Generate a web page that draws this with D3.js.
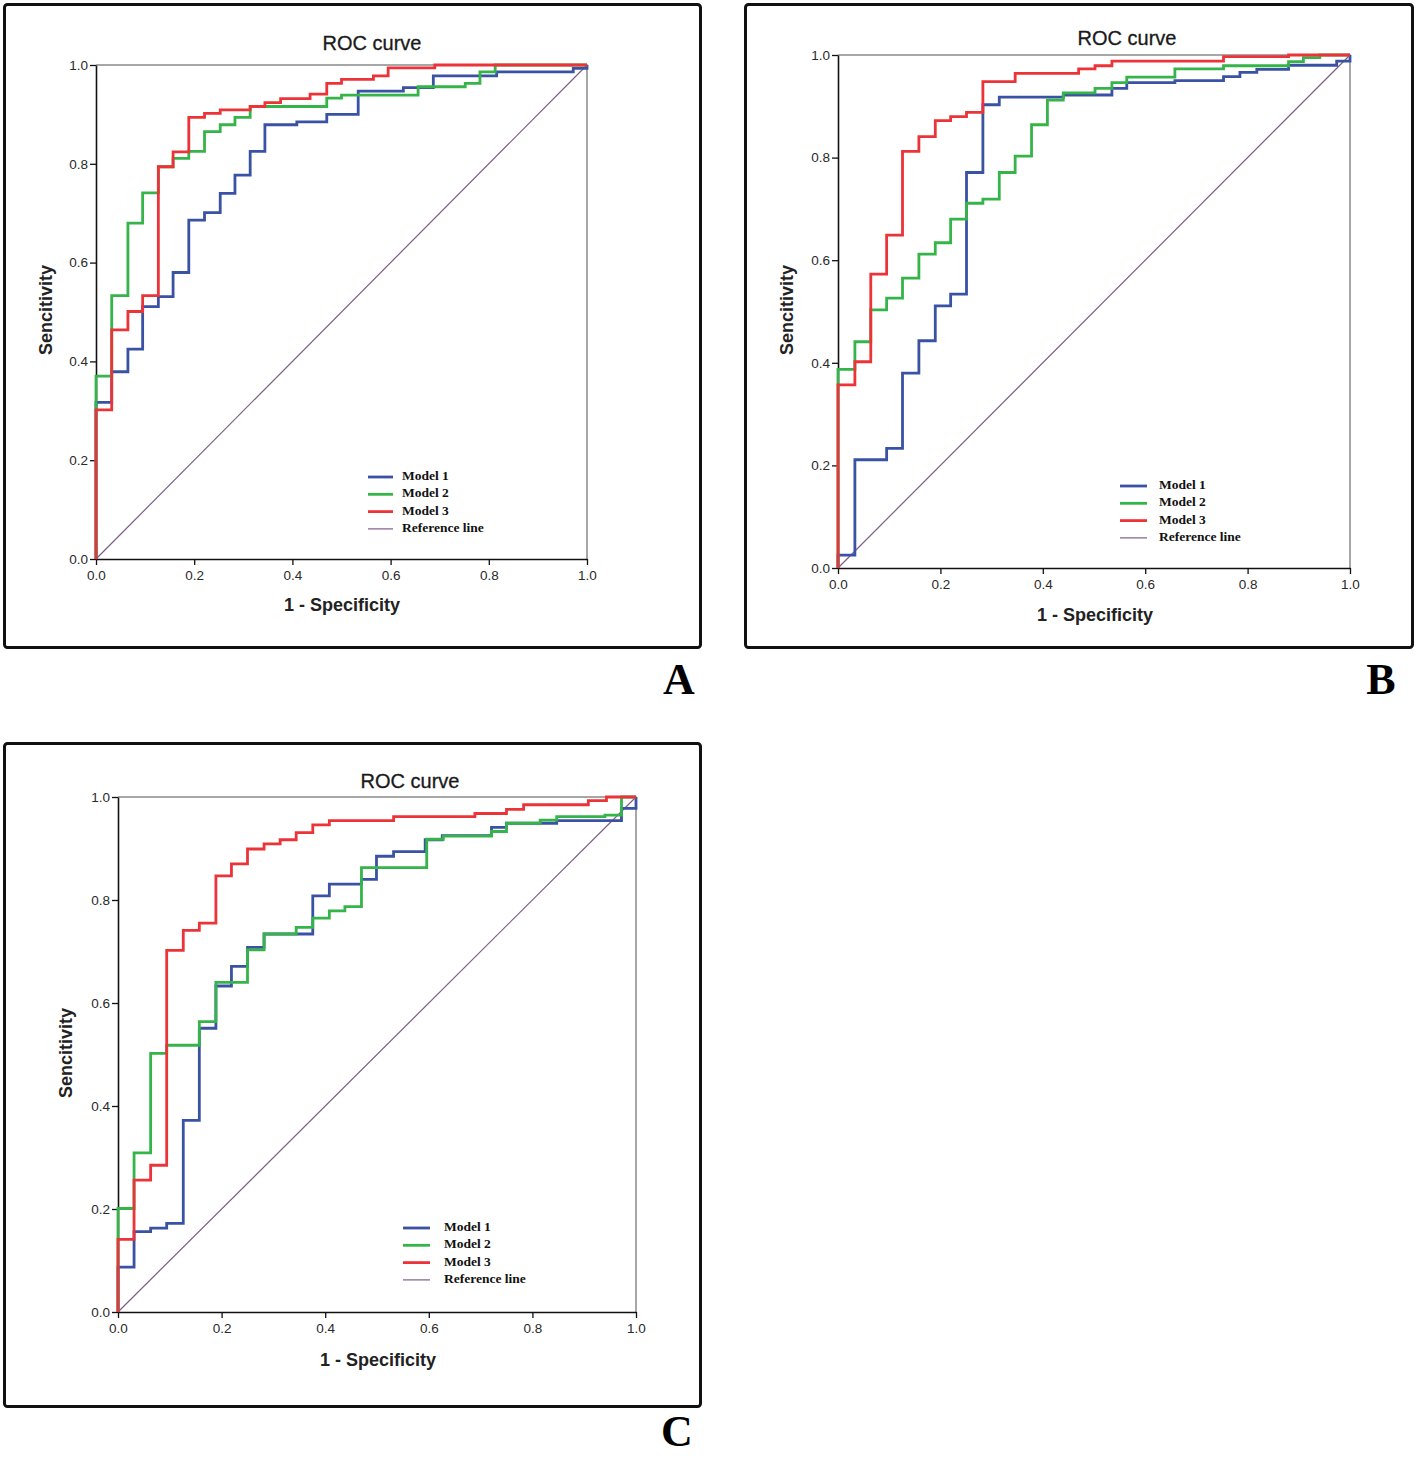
<!DOCTYPE html>
<html>
<head>
<meta charset="utf-8">
<script src="https://cdn.jsdelivr.net/npm/d3@7"></script>
<style>
  html, body { margin: 0; padding: 0; background: #fff; }
  svg { display: block; }
</style>
</head>
<body>
<svg id="chart" width="1418" height="1458"></svg>
<script>
// ---------------- DATA ----------------
const tickValues = [0, 0.2, 0.4, 0.6, 0.8, 1.0];
const tickLabels = ["0.0", "0.2", "0.4", "0.6", "0.8", "1.0"];
const seriesNames = ["Model 1", "Model 2", "Model 3", "Reference line"];
const panelLetters = ["A", "B", "C"];
const titleText = "ROC curve";
const xLabelText = "1 - Specificity";
const yLabelText = "Sencitivity";

// ROC step corners [1 - specificity, sensitivity]
const panelA_model1 = [[0,0],[0,0.317],[0.032,0.379],[0.065,0.425],[0.095,0.511],[0.127,0.531],[0.157,0.580],[0.189,0.686],[0.221,0.701],[0.253,0.740],[0.283,0.777],[0.314,0.825],[0.344,0.879],[0.409,0.885],[0.470,0.900],[0.534,0.947],[0.626,0.954],[0.687,0.978],[0.816,0.986],[0.972,0.993],[1,1]];
const panelA_model2 = [[0,0],[0,0.370],[0.032,0.533],[0.065,0.680],[0.095,0.741],[0.127,0.794],[0.157,0.811],[0.189,0.825],[0.221,0.865],[0.253,0.879],[0.283,0.894],[0.314,0.916],[0.470,0.933],[0.500,0.939],[0.656,0.956],[0.752,0.963],[0.782,0.986],[0.813,1.0],[1,1]];
const panelA_model3 = [[0,0],[0,0.302],[0.032,0.464],[0.065,0.501],[0.095,0.533],[0.127,0.794],[0.157,0.824],[0.189,0.894],[0.221,0.902],[0.253,0.909],[0.314,0.916],[0.344,0.924],[0.376,0.932],[0.436,0.941],[0.470,0.963],[0.500,0.971],[0.565,0.978],[0.595,0.994],[0.690,1.0],[1,1]];

const panelB_model1 = [[0,0],[0,0.025],[0.033,0.211],[0.095,0.233],[0.126,0.380],[0.158,0.443],[0.190,0.511],[0.220,0.534],[0.251,0.771],[0.283,0.903],[0.315,0.918],[0.440,0.922],[0.535,0.935],[0.564,0.946],[0.658,0.950],[0.753,0.958],[0.785,0.966],[0.818,0.972],[0.880,0.980],[0.974,0.988],[1,1]];
const panelB_model2 = [[0,0],[0,0.387],[0.033,0.441],[0.064,0.503],[0.095,0.526],[0.126,0.565],[0.158,0.612],[0.190,0.634],[0.220,0.680],[0.251,0.711],[0.283,0.719],[0.315,0.771],[0.346,0.803],[0.378,0.864],[0.409,0.912],[0.440,0.926],[0.502,0.935],[0.535,0.946],[0.564,0.957],[0.658,0.973],[0.753,0.979],[0.880,0.987],[0.909,0.995],[0.941,1.0],[1,1]];
const panelB_model3 = [[0,0],[0,0.357],[0.033,0.402],[0.064,0.573],[0.095,0.649],[0.126,0.812],[0.158,0.841],[0.190,0.872],[0.220,0.880],[0.251,0.888],[0.283,0.948],[0.346,0.964],[0.470,0.973],[0.502,0.979],[0.535,0.988],[0.753,0.997],[0.880,1.0],[1,1]];

const panelC_model1 = [[0,0],[0,0.087],[0.031,0.156],[0.063,0.163],[0.094,0.172],[0.126,0.372],[0.157,0.551],[0.189,0.633],[0.219,0.671],[0.250,0.708],[0.282,0.734],[0.376,0.808],[0.408,0.831],[0.470,0.840],[0.499,0.885],[0.532,0.894],[0.593,0.917],[0.626,0.925],[0.721,0.941],[0.750,0.949],[0.847,0.954],[0.972,0.978],[1,1]];
const panelC_model2 = [[0,0],[0,0.201],[0.031,0.309],[0.063,0.502],[0.094,0.518],[0.157,0.564],[0.189,0.640],[0.250,0.703],[0.282,0.734],[0.344,0.747],[0.376,0.765],[0.408,0.779],[0.438,0.787],[0.470,0.863],[0.596,0.918],[0.628,0.924],[0.721,0.933],[0.750,0.949],[0.815,0.955],[0.847,0.962],[0.940,0.965],[0.972,1.0],[1,1]];
const panelC_model3 = [[0,0],[0,0.141],[0.031,0.256],[0.063,0.285],[0.094,0.702],[0.126,0.741],[0.157,0.755],[0.189,0.847],[0.219,0.870],[0.250,0.899],[0.282,0.909],[0.313,0.917],[0.344,0.931],[0.376,0.946],[0.408,0.954],[0.532,0.962],[0.689,0.968],[0.750,0.976],[0.783,0.985],[0.908,0.993],[0.943,1.0],[1,1]];

const referenceLine = [[0,0],[1,1]];

// ---------------- STYLE / LAYOUT ----------------
const colors = ["#3a52a3", "#35b44a", "#ec3338", "#7d5c86"];
const panels = [
  { data: [panelA_model1, panelA_model2, panelA_model3], letter: 0,
    frame: {x: 3, y: 3, w: 699, h: 646},
    plot: {l: 96, r: 587, t: 65, b: 559},
    title: [372, 45], xl: [342, 606], yl: [47, 310],
    legend: {x1: 368, x2: 393, tx: 402, y0: 477, dy: 17.3},
    letterPos: [679, 684] },
  { data: [panelB_model1, panelB_model2, panelB_model3], letter: 1,
    frame: {x: 744, y: 3, w: 670, h: 646},
    plot: {l: 838, r: 1350, t: 55, b: 568},
    title: [1127, 40], xl: [1095, 616], yl: [788, 310],
    legend: {x1: 1120, x2: 1147, tx: 1159, y0: 486, dy: 17.3},
    letterPos: [1381, 684] },
  { data: [panelC_model1, panelC_model2, panelC_model3], letter: 2,
    frame: {x: 3, y: 742, w: 699, h: 666},
    plot: {l: 118, r: 636, t: 797, b: 1312},
    title: [410, 783], xl: [378, 1361], yl: [67, 1053],
    legend: {x1: 403, x2: 430, tx: 444, y0: 1228, dy: 17.3},
    letterPos: [677, 1436] }
];

const svg = d3.select("#chart");
const sans = "'Liberation Sans', Arial, sans-serif";
const serif = "'Liberation Serif', 'Times New Roman', serif";

panels.forEach(p => {
  const g = svg.append("g");
  // outer frame
  g.append("rect")
    .attr("x", p.frame.x + 1.5).attr("y", p.frame.y + 1.5)
    .attr("width", p.frame.w - 3).attr("height", p.frame.h - 3)
    .attr("rx", 3).attr("fill", "none")
    .attr("stroke", "#111").attr("stroke-width", 3);

  const x = d3.scaleLinear().domain([0, 1]).range([p.plot.l, p.plot.r]);
  const y = d3.scaleLinear().domain([0, 1]).range([p.plot.b, p.plot.t]);

  // top & right frame lines
  g.append("path")
    .attr("d", `M${x(0)},${y(1)}H${x(1)}V${y(0)}`)
    .attr("fill", "none").attr("stroke", "#8a8a8a").attr("stroke-width", 1.5);

  // axes
  const fmt = (d, i) => tickLabels[i];
  const xAxis = g.append("g").attr("transform", `translate(0,${y(0)})`)
    .call(d3.axisBottom(x).tickValues(tickValues).tickFormat(fmt).tickSize(6).tickSizeOuter(0));
  const yAxis = g.append("g").attr("transform", `translate(${x(0)},0)`)
    .call(d3.axisLeft(y).tickValues(tickValues).tickFormat(fmt).tickSize(6).tickSizeOuter(0));
  [xAxis, yAxis].forEach(a => {
    a.select(".domain").attr("stroke", "#111").attr("stroke-width", 1.6);
    a.selectAll(".tick line").attr("stroke", "#111").attr("stroke-width", 1.3);
    a.selectAll(".tick text").attr("font-family", sans).attr("font-size", 13.5).attr("fill", "#2a2a2a");
  });
  xAxis.selectAll(".tick text").attr("dy", "0.9em");
  yAxis.selectAll(".tick text").attr("x", -8);

  // reference line
  const line = d3.line().x(d => x(d[0])).y(d => y(d[1]));
  g.append("path").datum(referenceLine)
    .attr("d", line).attr("fill", "none")
    .attr("stroke", colors[3]).attr("stroke-width", 1.2);

  // ROC step curves
  const stepLine = d3.line().x(d => x(d[0])).y(d => y(d[1])).curve(d3.curveStepAfter);
  p.data.forEach((series, i) => {
    g.append("path").datum(series)
      .attr("d", stepLine).attr("fill", "none")
      .attr("stroke", colors[i]).attr("stroke-width", 2.8)
      .attr("stroke-linejoin", "miter");
  });

  // title and axis labels
  g.append("text").attr("x", p.title[0]).attr("y", p.title[1])
    .attr("text-anchor", "middle").attr("dominant-baseline", "middle")
    .attr("font-family", sans).attr("font-size", 20).attr("fill", "#1a1a1a")
    .attr("stroke", "#1a1a1a").attr("stroke-width", 0.3)
    .text(titleText);
  g.append("text").attr("x", p.xl[0]).attr("y", p.xl[1])
    .attr("text-anchor", "middle").attr("dominant-baseline", "middle")
    .attr("font-family", sans).attr("font-size", 18).attr("font-weight", "bold").attr("fill", "#222")
    .text(xLabelText);
  g.append("text")
    .attr("transform", `translate(${p.yl[0]},${p.yl[1]}) rotate(-90)`)
    .attr("text-anchor", "middle").attr("dominant-baseline", "middle")
    .attr("font-family", sans).attr("font-size", 18).attr("font-weight", "bold").attr("fill", "#222")
    .text(yLabelText);

  // legend
  seriesNames.forEach((name, i) => {
    const ly = p.legend.y0 + i * p.legend.dy;
    g.append("line")
      .attr("x1", p.legend.x1).attr("x2", p.legend.x2)
      .attr("y1", ly).attr("y2", ly)
      .attr("stroke", colors[i]).attr("stroke-width", i < 3 ? 2.8 : 1.2);
    g.append("text").attr("x", p.legend.tx).attr("y", ly)
      .attr("dominant-baseline", "middle")
      .attr("font-family", serif).attr("font-size", 13.5).attr("font-weight", "bold").attr("fill", "#111")
      .text(name);
  });

  // panel letter
  g.append("text").attr("x", p.letterPos[0]).attr("y", p.letterPos[1])
    .attr("text-anchor", "middle").attr("dominant-baseline", "middle")
    .attr("font-family", serif).attr("font-size", 44).attr("font-weight", "bold").attr("fill", "#000")
    .text(panelLetters[p.letter]);
});
</script>
</body>
</html>
